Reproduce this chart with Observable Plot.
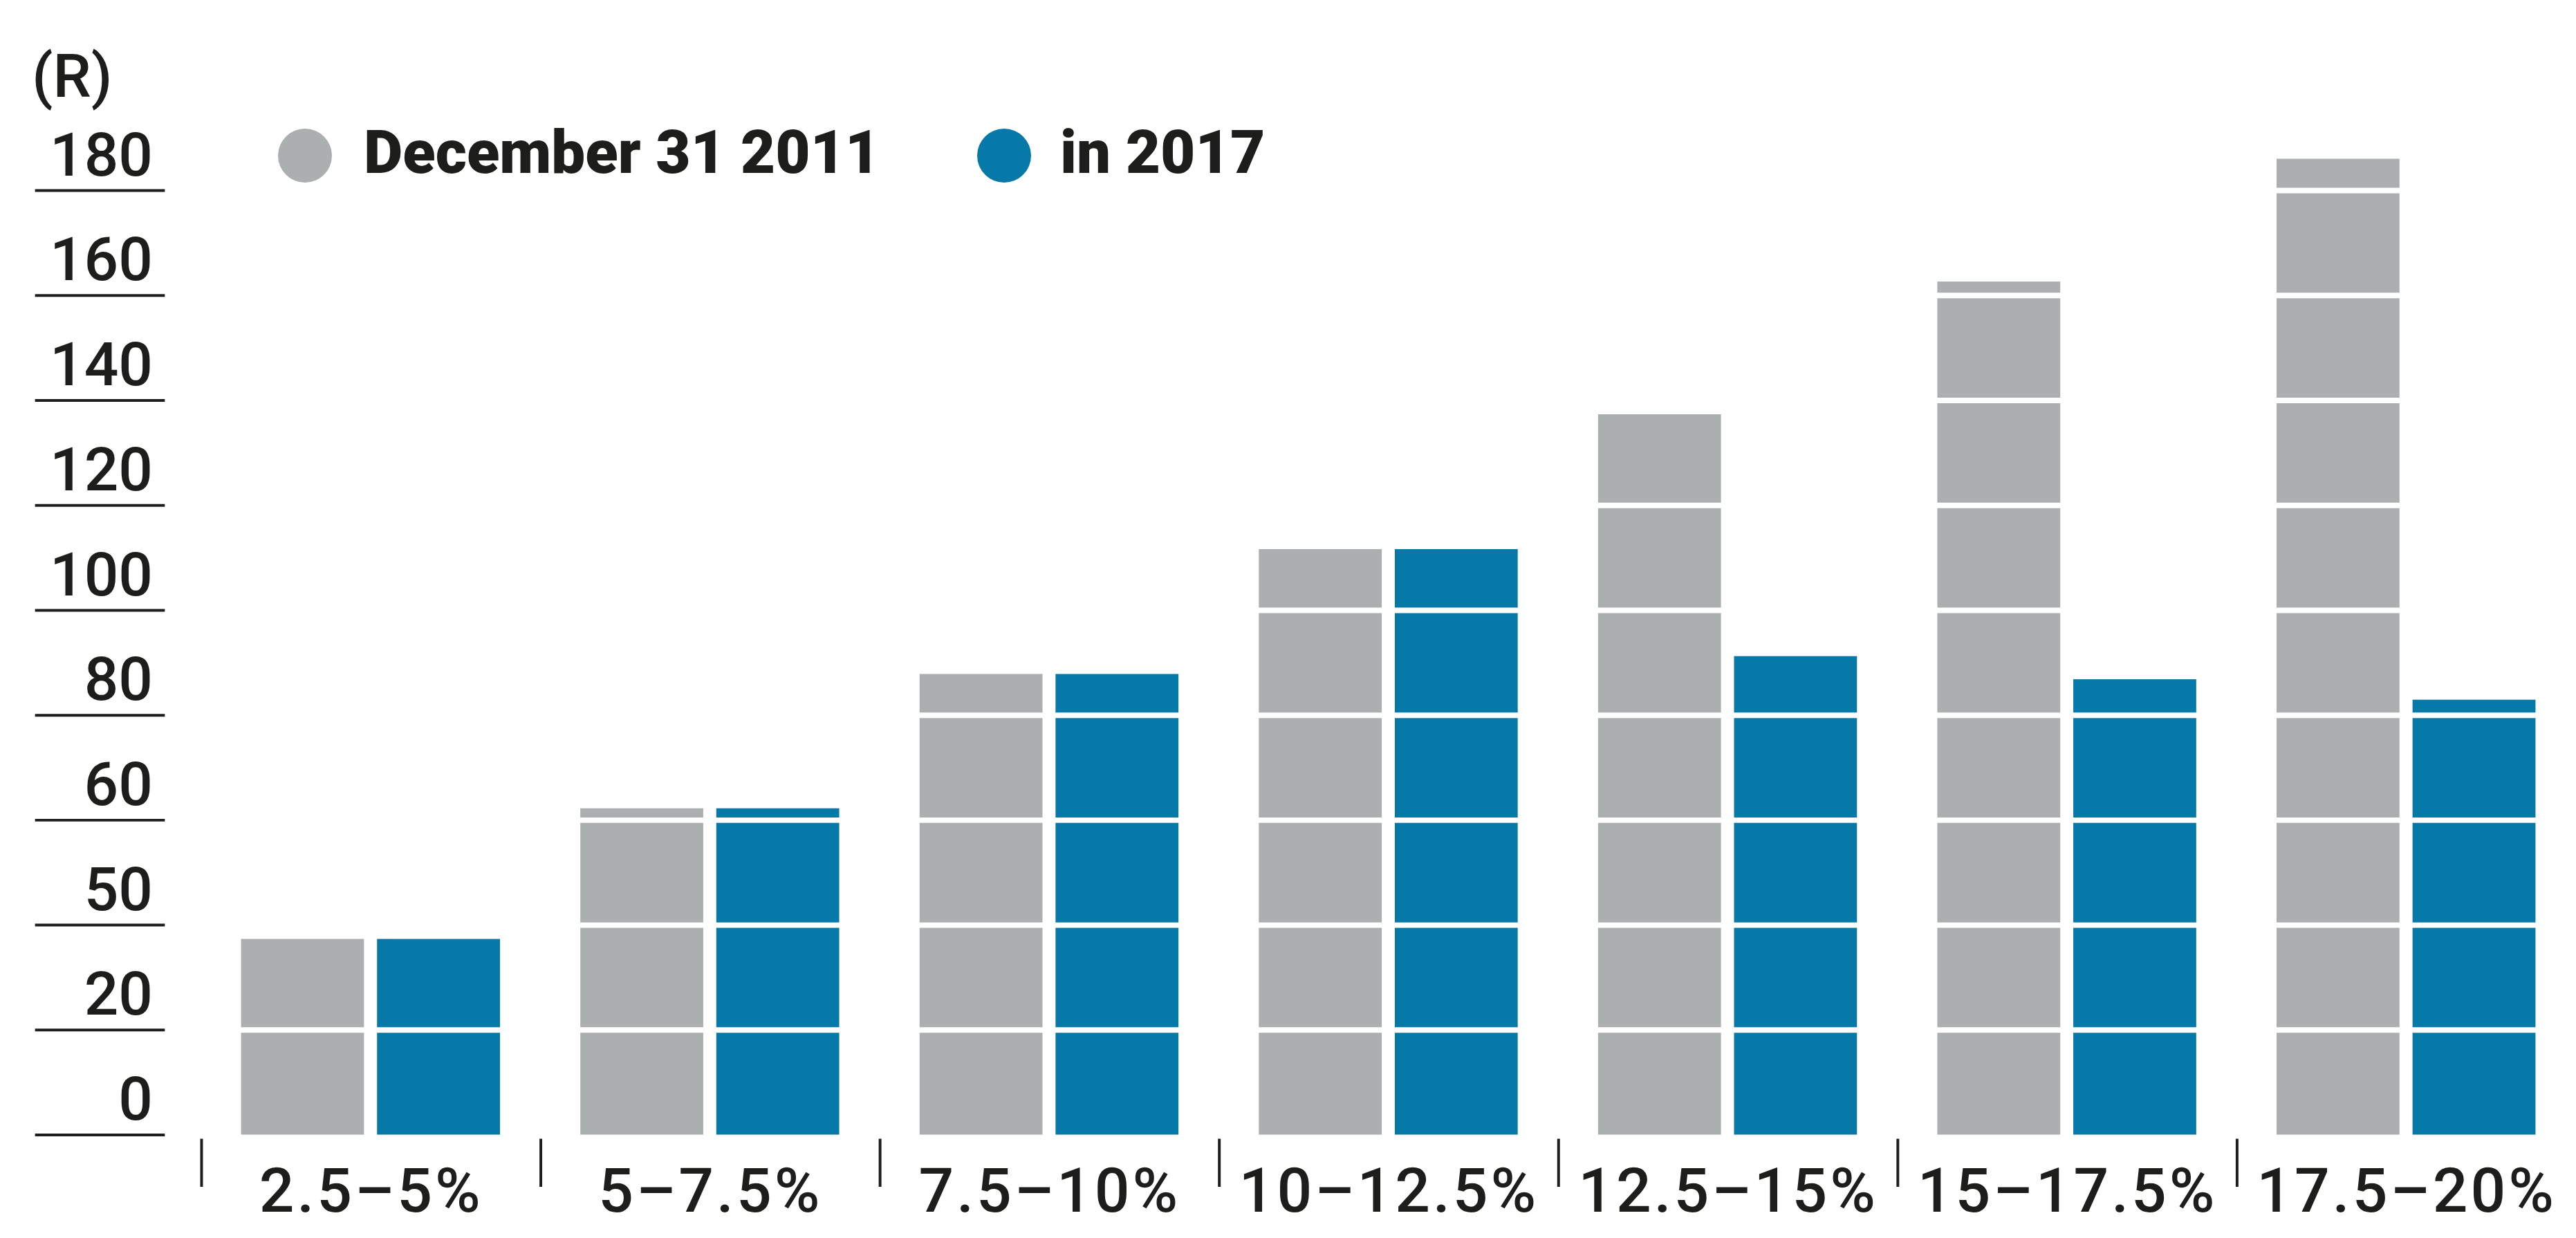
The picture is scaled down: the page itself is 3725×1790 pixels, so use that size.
<!DOCTYPE html>
<html>
<head>
<meta charset="utf-8">
<script src="https://cdn.jsdelivr.net/npm/d3@7"></script>
<script src="https://cdn.jsdelivr.net/npm/@observablehq/plot@0.6"></script>
<style>
  html, body { margin: 0; padding: 0; background: #ffffff; overflow: hidden; }
  #wrap { position: relative; width: 3725px; height: 1790px; overflow: hidden; font-family: Roboto, "Liberation Sans", sans-serif; color: #1d1d1b; }
  #chart { position: absolute; left: 0; top: 0; }
  .unit { position: absolute; left: 46px; top: 66px; font-size: 88px; line-height: 1; font-weight: 500; }
  .swatch { position: absolute; top: 186px; width: 78px; height: 78px; border-radius: 50%; }
  .ltext { position: absolute; top: 177px; font-size: 87px; line-height: 1; font-weight: 900; white-space: nowrap; }
  #chart svg [aria-label="fx-axis tick label"] text { letter-spacing: 4px; }
</style>
</head>
<body>
<div id="wrap">
  <div id="chart"></div>
  <div class="unit">(R)</div>
  <div id="legend"></div>
</div>
<script>
// ---- data ----
const categories = ["2.5–5%", "5–7.5%", "7.5–10%", "10–12.5%", "12.5–15%", "15–17.5%", "17.5–20%"];
const seriesNames = ["December 31 2011", "in 2017"];
const values2011 = [37.3, 62.2, 87.8, 111.6, 137.3, 162.6, 186];
const values2017 = [37.3, 62.2, 87.8, 111.6, 91.2, 86.8, 82.9];
const yTickValues = [0, 20, 40, 60, 80, 100, 120, 140, 160, 180];
const yTickLabels = ["0", "20", "50", "60", "80", "100", "120", "140", "160", "180"];
const seriesColors = ["#abafaf", "#0779a8"];

const table = categories.flatMap((c, i) => [
  {category: c, series: seriesNames[0], value: values2011[i]},
  {category: c, series: seriesNames[1], value: values2017[i]}
]);

// ---- layout ----
const W = 3751, H = 1790, ML = 293, MR = 0, MT = 277, MB = 138;
const halfBand = (W - ML - MR) / categories.length / 2;
const ink = "#1d1d1b";

const chart = Plot.plot({
  width: W, height: H,
  marginLeft: ML, marginRight: MR, marginTop: MT, marginBottom: MB,
  style: {fontFamily: "Roboto, 'Liberation Sans', sans-serif", color: ink, background: "transparent", overflow: "visible"},
  fx: {domain: categories, padding: 0, label: null},
  x: {domain: seriesNames, paddingInner: 0.0955, paddingOuter: 0.289, axis: null},
  y: {domain: [0, 180], label: null},
  color: {domain: seriesNames, range: seriesColors},
  marks: [
    Plot.barY(table, {fx: "category", x: "series", y: "value", fill: "series"}),
    Plot.ruleY(yTickValues.filter(d => d > 0), {stroke: "#ffffff", strokeWidth: 8}),
    Plot.axisY(yTickValues, {tickSize: 189, dx: -53, fill: "none", stroke: ink, strokeWidth: 4, label: null}),
    Plot.axisY(yTickValues, {
      tickSize: 0, tickPadding: 71,
      tickFormat: d => yTickLabels[yTickValues.indexOf(d)],
      fontSize: 88, fontWeight: 500, textAnchor: "end", lineAnchor: "bottom", dy: -22, fill: ink, label: null
    }),
    Plot.axisFx({anchor: "bottom", tickSize: 70, dx: -halfBand, dy: 6, fill: "none", stroke: ink, strokeWidth: 4, label: null}),
    Plot.axisFx({anchor: "bottom", tickSize: 0, tickPadding: 48, fontSize: 90, fontWeight: 500, lineAnchor: "top", fill: ink, label: null})
  ]
});
document.getElementById("chart").appendChild(chart);

// ---- legend ----
const legend = document.getElementById("legend");
const swatchLeft = [402, 1413];
const textLeft = [526, 1533];
seriesNames.forEach((name, i) => {
  const sw = document.createElement("div");
  sw.className = "swatch";
  sw.style.left = swatchLeft[i] + "px";
  sw.style.background = seriesColors[i];
  legend.appendChild(sw);
  const t = document.createElement("div");
  t.className = "ltext";
  t.style.left = textLeft[i] + "px";
  t.textContent = name;
  legend.appendChild(t);
});
</script>
</body>
</html>
